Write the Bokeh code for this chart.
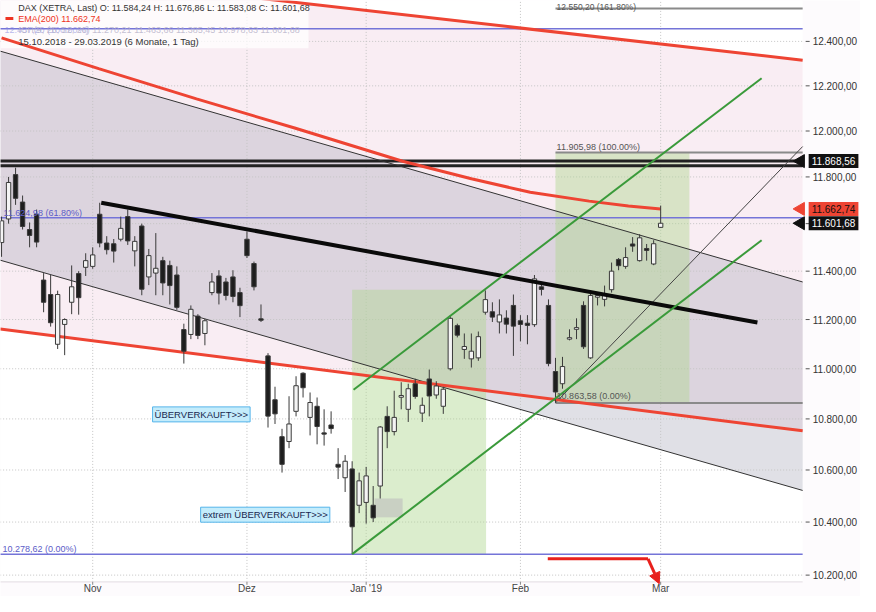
import numpy as np
from bokeh.plotting import figure
from bokeh.models import (Range1d, Label, Arrow, NormalHead, ColumnDataSource)
from bokeh.embed import file_html
from bokeh.resources import INLINE

# ---------------- data ----------------
dates = ["15.10", "16.10", "17.10", "18.10", "19.10", "22.10", "23.10", "24.10", "25.10", "26.10",
         "29.10", "30.10", "31.10",
         "01.11", "02.11", "05.11", "06.11", "07.11", "08.11", "09.11", "12.11", "13.11", "14.11",
         "15.11", "16.11", "19.11", "20.11", "21.11", "22.11", "23.11", "26.11", "27.11", "28.11",
         "29.11", "30.11",
         "03.12", "04.12", "05.12", "06.12", "07.12", "10.12", "11.12", "12.12", "13.12", "14.12",
         "17.12", "18.12", "19.12", "20.12", "21.12", "27.12", "28.12",
         "02.01", "03.01", "04.01", "07.01", "08.01", "09.01", "10.01", "11.01", "14.01", "15.01",
         "16.01", "17.01", "18.01", "21.01", "22.01", "23.01", "24.01", "25.01", "28.01", "29.01",
         "30.01", "31.01",
         "01.02", "04.02", "05.02", "06.02", "07.02", "08.02", "11.02", "12.02", "13.02", "14.02",
         "15.02", "18.02", "19.02", "20.02", "21.02", "22.02", "25.02", "26.02", "27.02", "28.02",
         "01.03"]

opens = [11520, 11620, 11810, 11692, 11575, 11640, 11363, 11303, 11099, 11180,
         11271, 11390, 11416,
         11420, 11640, 11518, 11515, 11534, 11630, 11485, 11590, 11376, 11392,
         11444, 11424, 11384, 11159, 11139, 11214, 11143, 11311, 11380, 11355,
         11376, 11311,
         11534, 11432, 11203, 11052, 10876, 10730, 10711, 10830, 10982, 10806,
         10850, 10745, 10776, 10622, 10570, 10604, 10464,
         10475, 10464, 10538, 10810, 10750, 10886, 10838, 10940, 10823, 10959,
         10895, 10850, 11000, 11175, 11078, 11040, 11044, 11230, 11232, 11190,
         11206, 11258,
         11195, 11185, 11179, 11335, 11258, 10989, 10940, 11120, 11160, 11258,
         11044, 11295, 11283, 11323, 11449, 11420, 11514, 11444, 11495, 11430,
         11584.24]
highs = [11630, 11800, 11840, 11720, 11605, 11660, 11392, 11384, 11319, 11205,
         11424, 11400, 11475,
         11500, 11689, 11547, 11535, 11630, 11660, 11547, 11600, 11493, 11560,
         11460, 11444, 11420, 11183, 11258, 11222, 11203, 11392, 11404, 11372,
         11404, 11331,
         11567, 11440, 11262, 11063, 10928, 10761, 10890, 10970, 10986, 10905,
         10885, 10838, 10830, 10685, 10658, 10634, 10590,
         10612, 10538, 10772, 10850, 10912, 10946, 10940, 10960, 10885, 10997,
         10950, 10928, 11218, 11183, 11143, 11143, 11151, 11320, 11271, 11283,
         11238, 11303,
         11218, 11218, 11384, 11343, 11283, 11044, 11048, 11160, 11205, 11275,
         11310, 11311, 11340, 11436, 11455, 11500, 11543, 11555, 11514, 11530,
         11676.86]
lows = [11460, 11600, 11680, 11575, 11500, 11500, 11230, 11171, 11080, 11055,
        11222, 11220, 11380,
        11410, 11500, 11470, 11436, 11525, 11510, 11420, 11300, 11342, 11300,
        11300, 11262, 11240, 11021, 11120, 11120, 11095, 11300, 11262, 11279,
        11271, 11210,
        11455, 11320, 11190, 10766, 10780, 10590, 10685, 10810, 10885, 10735,
        10700, 10695, 10742, 10565, 10515, 10279, 10434,
        10394, 10400, 10490, 10685, 10735, 10838, 10788, 10880, 10788, 10810,
        10880, 10820, 10993, 11127, 11040, 11005, 11032, 11220, 11190, 11143,
        11143, 11052,
        11111, 11099, 11170, 11299, 11010, 10864, 10920, 11115, 11120, 11080,
        11040, 11258, 11254, 11311, 11404, 11410, 11481, 11440, 11444, 11425,
        11583.08]
closes = [11612, 11776, 11708, 11588, 11550, 11522, 11271, 11187, 11303, 11200,
          11335, 11290, 11444,
          11468, 11518, 11490, 11484, 11580, 11527, 11525, 11325, 11465, 11412,
          11351, 11340, 11250, 11071, 11242, 11135, 11195, 11355, 11309, 11299,
          11295, 11257,
          11465, 11335, 11200, 10811, 10820, 10622, 10780, 10932, 10924, 10865,
          10770, 10740, 10762, 10611, 10634, 10382, 10558,
          10577, 10416, 10768, 10750, 10806, 10893, 10920, 10889, 10854, 10891,
          10931, 10918, 11205, 11136, 11090, 11071, 11130, 11282, 11210, 11219,
          11181, 11173,
          11180, 11176, 11368, 11324, 11021, 10907, 11009, 11126, 11167, 11089,
          11299, 11299, 11305, 11400, 11423, 11457, 11505, 11540, 11487, 11515,
          11601.68]

# EMA(200) read at a few trading-day positions
ema_idx = [0, 13.85, 27.8, 41.8, 57.2, 67, 75.4, 83.8, 89.4, 94]
ema_val = [12416, 12277, 12142, 12013, 11868, 11792, 11734, 11696, 11675, 11662.74]

# month ticks (trading-day index)
month_idx = [13, 35, 52, 74, 94]
month_lbl = ["Nov", "Dez", "Jan '19", "Feb", "Mar"]
y_ticks = [10200, 10400, 10600, 10800, 11000, 11200, 11400, 11600, 11800, 12000, 12200, 12400]

# drawn objects (index, value)
red_upper = ([-0.2, 114.25], [12734, 12315])
red_lower = ([-0.2, 114.25], [11161, 10753])
chan_upper = ([-0.2, 114.25], [12356, 11355])
chan_lower = ([-0.2, 114.25], [11446, 10521])
trend_black = ([14.22, 107.8], [11689, 11188])
green_a = ([50.2, 108.4], [10916, 12234])
green_b = ([50.0, 108.4], [10278.62, 11530])
thin_up = ([79.0, 114.25], [10863.58, 11932])
box1 = (50.0, 69.1, 10278.62, 11323)
box2 = (79.0, 98.1, 10863.58, 11905.98)
small_box = (53.2, 57.2, 10418, 10490)
fib_blue = [12457.20, 11624.98, 10278.62]
fib_blue_lbl = ["12.457,20 (100.00%)", "11.624,98 (61.80%)", "10.278,62 (0.00%)"]
fib_grey = [12550.20, 11905.98, 10863.58]
fib_grey_lbl = ["12.550,20 (161.80%)", "11.905,98 (100.00%)", "10.863,58 (0.00%)"]
hlines_black = [11868.56, 11848.0]
arrow_path = ([77.9, 92.2], [10261, 10261])
arrow_tip = (92.2, 10261, 93.8, 10168)

# ---------------- layout helpers ----------------
DATA_END = 114.25           # right edge of the price area (trading-day index)
X_END = 122.5               # includes the price-scale strip
PXI = 860 / (X_END + 0.15)  # px per index in this figure


def IX(px):                 # reference pixel -> index
    return (px - 1) / 7.15


def VY(py):                 # reference pixel -> value (log scale)
    return 12400 * np.exp(-(py - 42) / 2806)


def AX(d):                  # px to the right of the price area -> index
    return DATA_END + d / PXI


def de(v):
    return f"{v:,.2f}".replace(",", "X").replace(".", ",").replace("X", ".")


FONT = "Liberation Sans"

p = figure(width=860, height=596, x_range=Range1d(-0.15, X_END),
           y_range=Range1d(VY(612), VY(0)), y_axis_type="log",
           output_backend="svg", toolbar_location=None,
           min_border_left=0, min_border_top=0, min_border_right=0, min_border_bottom=0,
           background_fill_color="#fdfbfd", border_fill_color="#fdfbfd")
p.outline_line_color = None
p.axis.visible = False
p.grid.visible = False

# ---------------- fills ----------------
p.quad(left=-0.2, right=DATA_END, bottom=VY(597), top=VY(-5), fill_color="white", line_color=None)
p.patch(red_upper[0] + red_lower[0][::-1], red_upper[1] + red_lower[1][::-1],
        fill_color="#f9edf3", line_color=None)
p.patch(chan_upper[0] + chan_lower[0][::-1], chan_upper[1] + chan_lower[1][::-1],
        fill_color="#aaa8ba", fill_alpha=0.36, line_color=None)

# dotted grid (price area only)
p.segment(x0=[-0.2] * len(y_ticks), y0=y_ticks, x1=[DATA_END] * len(y_ticks), y1=y_ticks,
          line_color="#c4c4c4", line_dash="1 2", line_width=1)
p.segment(x0=month_idx, y0=[VY(597)] * 5, x1=month_idx, y1=[VY(0)] * 5,
          line_color="#c4c4c4", line_dash="1 2", line_width=1)
p.segment(x0=[-0.2], y0=[VY(597)], x1=[DATA_END], y1=[VY(597)], line_color="#e2dce2",
          line_width=1)

for b in (box1, box2):
    p.quad(left=b[0], right=b[1], bottom=b[2], top=b[3], fill_color="#b0d890",
           fill_alpha=0.45, line_color=None)
p.quad(left=small_box[0], right=small_box[1], bottom=small_box[2], top=small_box[3],
       fill_color="#bdbdbd", fill_alpha=0.6, line_color=None)

# legend background
p.quad(left=IX(0), right=IX(314), bottom=VY(49), top=VY(0), fill_color="white",
       fill_alpha=0.75, line_color=None)

# ---------------- horizontal levels ----------------
for v in fib_blue:
    p.line([-0.2, DATA_END], [v, v], line_color="#7474d8", line_width=1.5)
for v in fib_grey:
    p.line([box2[0], DATA_END], [v, v], line_color="#8a8a8a", line_width=2)
for v in hlines_black:
    p.line([-0.2, DATA_END], [v, v], line_color="#222222", line_width=3)

# ---------------- trend lines ----------------
p.line(*chan_upper, line_color="#333333", line_width=1)
p.line(*chan_lower, line_color="#333333", line_width=1)
p.line(*thin_up, line_color="#444444", line_width=1)
p.line(*red_upper, line_color="#ee4433", line_width=3)
p.line(*red_lower, line_color="#ee4433", line_width=3)
p.line(ema_idx, ema_val, line_color="#ee4433", line_width=3)

# ---------------- candles ----------------
idx = list(range(len(dates)))
up = [c >= o for o, c in zip(opens, closes)]
src = ColumnDataSource(dict(
    x=idx, o=opens, h=highs, l=lows, c=closes,
    top=[max(o, c) for o, c in zip(opens, closes)],
    bot=[min(o, c) if abs(c - o) > 4 else min(o, c) - 3 for o, c in zip(opens, closes)],
    fill=["#f4f4f4" if u else "#1e1e1e" for u in up],
))
p.segment(x0="x", y0="h", x1="x", y1="l", source=src, line_color="#3a3a3a", line_width=1)
p.vbar(x="x", width=0.62, top="top", bottom="bot", source=src, fill_color="fill",
       line_color="#3a3a3a", line_width=1)

p.line(*trend_black, line_color="#0a0a0a", line_width=4)
p.line(*green_a, line_color="#3a9a3a", line_width=2)
p.line(*green_b, line_color="#3a9a3a", line_width=2)

# red arrow
p.line(*arrow_path, line_color="#e8201c", line_width=3)
p.add_layout(Arrow(end=NormalHead(size=11, fill_color="#e8201c", line_color="#e8201c"),
                   x_start=arrow_tip[0], y_start=arrow_tip[1], x_end=arrow_tip[2],
                   y_end=arrow_tip[3], line_color="#e8201c", line_width=3))


# ---------------- labels ----------------
def lab(x, y, text, color="#333333", size="9px", baseline="bottom", align="left", **kw):
    p.add_layout(Label(x=x, y=y, text=text, text_color=color, text_font=FONT,
                       text_font_size=size, text_baseline=baseline, text_align=align, **kw))


lab(IX(3), VY(223), fib_blue_lbl[1], color="#5c5cc8", size="9px")
lab(IX(2), VY(568), fib_blue_lbl[2], color="#5c5cc8", size="9px")
lab(IX(567), VY(12), fib_grey_lbl[0], color="#555555", size="8.5px")
lab(IX(567), VY(156), fib_grey_lbl[1], color="#555555", size="9px")
lab(IX(567), VY(411), fib_grey_lbl[2], color="#555555", size="9px")

# legend
lab(IX(18), VY(7.5), "DAX (XETRA, Last)  O: " + de(opens[-1]) + "  H: " + de(highs[-1]) +
    "  L: " + de(lows[-1]) + "  C: " + de(closes[-1]), color="#333333", size="9px",
    baseline="middle")
p.segment(x0=IX(5), y0=VY(18.5), x1=IX(13), y1=VY(18.5), line_color="#ee3322", line_width=3)
lab(IX(18), VY(18.5), "EMA(200)  " + de(ema_val[-1]), color="#ee3322", size="9px",
    baseline="middle")
lab(IX(4), VY(30), fib_blue_lbl[0], color="#8a8ae0", size="9px", baseline="middle",
    text_alpha=0.6)
lab(IX(18), VY(30), "ICH(9, 26, 52, 26)  11.270,21  11.463,66  11.385,45  10.978,63  11.601,68",
    color="#b4b0c8", size="9px", baseline="middle", text_alpha=0.8)
lab(IX(18), VY(42), "15.10.2018 - 29.03.2019  (6 Monate, 1 Tag)", color="#333333",
    size="9.5px", baseline="middle")

# annotation boxes
lab(IX(155), VY(425), "ÜBERVERKAUFT>>>", color="#1a2850", size="9.5px", baseline="middle",
    background_fill_color="#c4ecfb", border_line_color="#55b4ea", padding=2)
lab(IX(204), VY(528), "extrem ÜBERVERKAUFT>>>", color="#1a2850", size="9.5px",
    baseline="middle", background_fill_color="#c4ecfb", border_line_color="#55b4ea", padding=2)

# ---------------- time scale (bottom) ----------------
p.segment(x0=month_idx, y0=[VY(597)] * 5, x1=month_idx, y1=[VY(600)] * 5,
          line_color="#888888", line_width=1)
for i, t in zip(month_idx, month_lbl):
    lab(i, VY(604), t, color="#444444", size="10px", baseline="middle", align="center")

# ---------------- price scale (right strip) ----------------
p.segment(x0=[AX(3)] * len(y_ticks), y0=y_ticks, x1=[AX(7)] * len(y_ticks), y1=y_ticks,
          line_color="#555555", line_width=1)
for t in y_ticks:
    lab(AX(10), t, de(t), color="#333333", size="10px", baseline="middle")

# price markers
for v, bg, fg in [(hlines_black[0], "#111111", "white"), (ema_val[-1], "#ee4433", "#111111"),
                  (closes[-1], "#111111", "white")]:
    p.scatter([AX(-2)], [v], marker="triangle", angle=np.pi / 2, size=13,
              fill_color=bg, line_color=bg)
    lab(AX(6), v, de(v), color=fg, size="10px", baseline="middle",
        background_fill_color=bg, padding=3)

open("out.html", "w").write(file_html(p, INLINE))
